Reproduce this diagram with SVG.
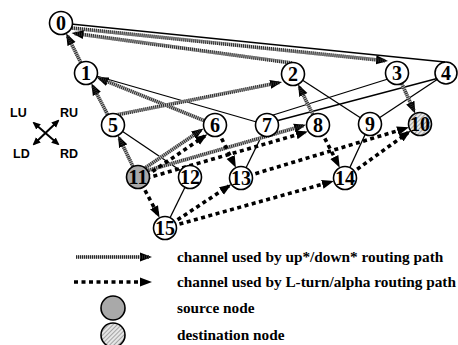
<svg xmlns="http://www.w3.org/2000/svg" width="458" height="345" viewBox="0 0 458 345">
  <defs>
    <style>
      .link { stroke: #000; stroke-width: 1.3; fill: none; }
      .upb { stroke: #b8b8b8; stroke-width: 3.6; fill: none; marker-end: url(#ah); }
      .upt { stroke: #2a2a2a; stroke-width: 3.6; fill: none; stroke-dasharray: 1 1; }
      .lt { stroke: #000; stroke-width: 3.6; fill: none; stroke-dasharray: 4 3.5; marker-end: url(#ah); }
      .node { fill: #fff; stroke: #000; stroke-width: 1.6; }
      .src { fill: #a9a9a9; }
      .dst { fill: url(#hatch); }
      .num { font-family: "Liberation Serif", "Times New Roman", serif; font-weight: bold; font-size: 20px; text-anchor: middle; fill: #000; }
      .dir { font-family: "Liberation Sans", Arial, sans-serif; font-weight: bold; font-size: 12.5px; fill: #000; }
      .leg { font-family: "Liberation Serif", "Times New Roman", serif; font-weight: bold; font-size: 15.3px; fill: #000; }
      .cross { stroke: #000; stroke-width: 2; fill: none; marker-start: url(#sh); marker-end: url(#sh); }
    </style>
    <marker id="ah" markerUnits="userSpaceOnUse" markerWidth="12" markerHeight="10" refX="9" refY="5" orient="auto">
      <path d="M0,0.5 L12,5 L0,9.5 z" fill="#000"/>
    </marker>
    <marker id="sh" markerUnits="userSpaceOnUse" markerWidth="8" markerHeight="8" refX="6" refY="4" orient="auto-start-reverse">
      <path d="M0,0.5 L8,4 L0,7.5 z" fill="#000"/>
    </marker>
    <pattern id="hatch" patternUnits="userSpaceOnUse" width="3" height="3" patternTransform="rotate(45)">
      <rect width="3" height="3" fill="#e6e6e6"/>
      <line x1="0" y1="0" x2="0" y2="3" stroke="#777" stroke-width="1.2"/>
    </pattern>
  </defs>

  <!-- direction key -->
  <g id="directions">
    <text class="dir" x="10" y="117">LU</text>
    <text class="dir" x="60" y="117">RU</text>
    <text class="dir" x="13" y="158">LD</text>
    <text class="dir" x="60" y="158">RD</text>
    <path class="cross" d="M34,123 L58,144"/>
    <path class="cross" d="M58,121 L34,144"/>
  </g>

  <!-- connectors -->
  <g id="connectors">
    <!-- physical links -->
    <path class="link" d="M61,23 L445,62"/>
    <path class="link" d="M86,73 L267,125"/>
    <path class="link" d="M293,74 L370,124"/>
    <path class="link" d="M270,116 L388,79"/>
    <path class="link" d="M276,121 L439,78"/>
    <path class="link" d="M370,124 L447,73"/>
    <path class="link" d="M113,125 L190,177"/>
    <path class="link" d="M190,177 L165,228"/>
    <path class="link" d="M267,125 L241,178"/>
    <path class="link" d="M370,124 L345,178"/>

    <!-- up*/down* routing channels -->
    <path class="upb" d="M138,177 L119.3,138.1"/><path class="upt" d="M138,177 L119.3,138.1"/>
    <path class="upb" d="M113,125 L92.7,85.9"/><path class="upt" d="M113,125 L92.7,85.9"/>
    <path class="upb" d="M86,73 L67.5,36"/><path class="upt" d="M86,73 L67.5,36"/>
    <path class="upb" d="M62,27 L385,60.7"/><path class="upt" d="M62,27 L385,60.7"/>
    <path class="upb" d="M292,63 L74.5,33.4"/><path class="upt" d="M292,63 L74.5,33.4"/>
    <path class="upb" d="M397,73 L414,110.8"/><path class="upt" d="M397,73 L414,110.8"/>
    <path class="upb" d="M215,125 L99.4,78.4"/><path class="upt" d="M215,125 L99.4,78.4"/>
    <path class="upb" d="M116,115 L279.1,82.6"/><path class="upt" d="M116,115 L279.1,82.6"/>
    <path class="upb" d="M318,125 L299.4,87"/><path class="upt" d="M318,125 L299.4,87"/>
    <path class="upb" d="M136,174.1 L201,130.2"/><path class="upt" d="M136,174.1 L201,130.2"/>
    <path class="upb" d="M137,173.6 L303.1,125.7"/><path class="upt" d="M137,173.6 L303.1,125.7"/>

    <!-- L-turn/alpha routing channels -->
    <path class="lt" d="M140,179.9 L204.9,136"/>
    <path class="lt" d="M139,180.4 L305,132.4"/>
    <path class="lt" d="M138,177 L158.2,215.2"/>
    <path class="lt" d="M215,125 L234.6,165"/>
    <path class="lt" d="M165,228 L228.9,186"/>
    <path class="lt" d="M165,228 L331,181.9"/>
    <path class="lt" d="M318,125 L338.4,165.1"/>
    <path class="lt" d="M241,178 L406.1,128.2"/>
    <path class="lt" d="M345,178 L408.2,132.5"/>
  </g>

  <!-- nodes -->
  <g id="n0"><circle class="node" cx="61" cy="23" r="11.5"/><text class="num" x="61" y="30">0</text></g>
  <g id="n1"><circle class="node" cx="86" cy="73" r="11.5"/><text class="num" x="86" y="80">1</text></g>
  <g id="n2"><circle class="node" cx="293" cy="74" r="11.5"/><text class="num" x="293" y="81">2</text></g>
  <g id="n3"><circle class="node" cx="397" cy="73" r="11.5"/><text class="num" x="397" y="80">3</text></g>
  <g id="n4"><circle class="node" cx="446" cy="73" r="11"/><text class="num" x="446" y="80">4</text></g>
  <g id="n5"><circle class="node" cx="113" cy="125" r="11.5"/><text class="num" x="113" y="132">5</text></g>
  <g id="n6"><circle class="node" cx="215" cy="125" r="11.5"/><text class="num" x="215" y="132">6</text></g>
  <g id="n7"><circle class="node" cx="267" cy="125" r="11.5"/><text class="num" x="267" y="132">7</text></g>
  <g id="n8"><circle class="node" cx="318" cy="125" r="11.5"/><text class="num" x="318" y="132">8</text></g>
  <g id="n9"><circle class="node" cx="370" cy="124" r="11.5"/><text class="num" x="370" y="131">9</text></g>
  <g id="n10"><circle class="node dst" cx="420" cy="124" r="11.5"/><text class="num" x="420" y="131">10</text></g>
  <g id="n11"><circle class="node src" cx="138" cy="177" r="11.5"/><text class="num" x="138" y="184">11</text></g>
  <g id="n12"><circle class="node" cx="190" cy="177" r="11.5"/><text class="num" x="190" y="184">12</text></g>
  <g id="n13"><circle class="node" cx="241" cy="178" r="11.5"/><text class="num" x="241" y="185">13</text></g>
  <g id="n14"><circle class="node" cx="345" cy="178" r="11.5"/><text class="num" x="345" y="185">14</text></g>
  <g id="n15"><circle class="node" cx="165" cy="228" r="11.5"/><text class="num" x="165" y="235">15</text></g>

  <!-- legend -->
  <g id="legend">
    <path class="upb" d="M76,257 L149,257"/><path class="upt" d="M76,257 L149,257"/>
    <path class="lt" d="M74,282 L149,282"/>
    <circle class="node src" cx="113" cy="308" r="12"/>
    <circle class="node dst" cx="113" cy="335" r="12"/>
    <text class="leg" x="177" y="262">channel used by up*/down* routing path</text>
    <text class="leg" x="177" y="287">channel used by L-turn/alpha routing path</text>
    <text class="leg" x="177" y="313">source node</text>
    <text class="leg" x="177" y="340">destination node</text>
  </g>
</svg>
